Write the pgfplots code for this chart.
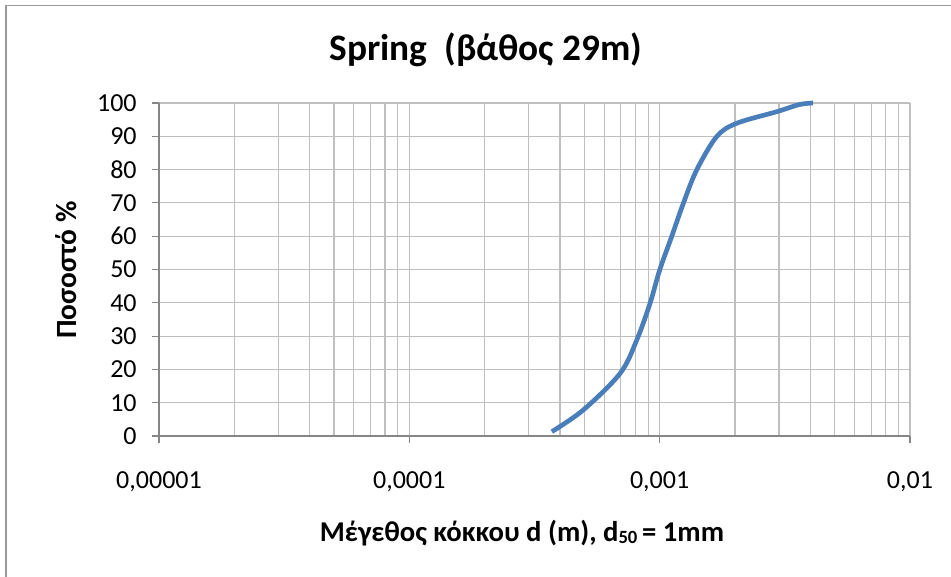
\documentclass[border=0pt]{standalone}
\usepackage{pgfplots}
\pgfplotsset{compat=1.18}
\usepackage{fontspec}
\setmainfont{Carlito}
\definecolor{gridc}{HTML}{BFBFBF}
\definecolor{axc}{HTML}{868686}
\definecolor{linec}{HTML}{4A7EBB}
\definecolor{framec}{HTML}{9A9A9A}
\begin{document}
\begin{tikzpicture}[x=0.75pt,y=0.75pt]
\useasboundingbox (0,0) rectangle (951,576);
\draw[framec, line width=1.4pt] (6,-5) -- (6,570.5) -- (960,570.5);
\begin{axis}[
  at={(119.25pt,105pt)}, anchor=south west,
  scale only axis, width=563.25pt, height=249.75pt,
  xmode=log, log basis x=10,
  xmin=1e-5, xmax=1e-2, ymin=0, ymax=100,
  xtick={1e-5,1e-4,1e-3,1e-2},
  xticklabels={{0,00001},{0,0001},{0,001},{0,01}},
  minor xtick={2e-5,3e-5,4e-5,5e-5,6e-5,7e-5,8e-5,9e-5,
               2e-4,3e-4,4e-4,5e-4,6e-4,7e-4,8e-4,9e-4,
               2e-3,3e-3,4e-3,5e-3,6e-3,7e-3,8e-3,9e-3},
  ytick={0,10,...,100},
  /pgf/number format/assume math mode=true,
  grid=both,
  major grid style={gridc, line width=0.9pt},
  minor grid style={gridc, line width=0.9pt},
  axis lines*=left,
  axis line style={axc, line width=0.9pt},
  tick style={axc, line width=0.9pt},
  tick align=outside,
  major tick length=5.25pt,
  minor tick length=0pt,
  xtick pos=bottom, ytick pos=left,
  tick label style={font=\fontsize{19.5}{21}\selectfont, text=black},
  xticklabel style={yshift=-18pt},
  yticklabel style={xshift=-8pt},
  clip=false,
]
\addplot[linec, line width=3.5pt, smooth, tension=0.55] coordinates {
(0.000371,1.3)
(0.000495,7.8)
(0.000695,18.8)
(0.00081,28.8)
(0.000915,39.8)
(0.001,49.8)
(0.001117,59.9)
(0.001244,69.9)
(0.001406,79.9)
(0.00169,89.9)
(0.00203,93.9)
(0.00294,97.4)
(0.0036,99.5)
(0.0041,100)
};
\end{axis}
\node[font=\fontsize{28}{30}\selectfont\bfseries] at (486,526) {Spring\ \ (βάθος 29m)};
\node[font=\fontsize{22}{24}\selectfont\bfseries, rotate=90] at (66,306) {Ποσοστό \%};
\node[font=\fontsize{21.5}{23}\selectfont\bfseries] at (522,43) {Μέγεθος κόκκου d (m), d{\fontsize{14}{14}\selectfont\raisebox{-1.5pt}{50}}\,= 1mm};
\end{tikzpicture}
\end{document}
